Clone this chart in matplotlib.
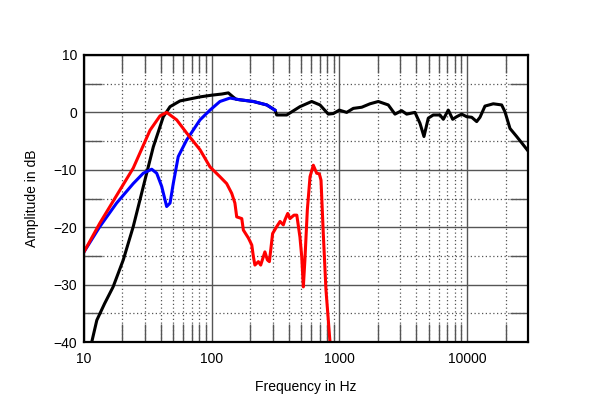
import numpy as np
import matplotlib
matplotlib.use("Agg")
import matplotlib.pyplot as plt
from matplotlib.ticker import FixedLocator, NullFormatter

plt.rcParams["font.family"] = ["Liberation Sans", "DejaVu Sans"]

# black: total response
black_f = [11.5, 12.6, 14.5, 16.9, 20.3, 24.3, 30, 34.9, 41.8, 47.2, 56.5, 66, 81, 100,
           120, 135, 147, 155, 166, 212, 270, 313, 323, 387, 491, 607, 705, 819, 897,
           998, 1141, 1285, 1496, 1737, 2018, 2415, 2725, 3074, 3365, 3908, 4277, 4596,
           4968, 5435, 6137, 6516, 7127, 7713, 8286, 9075, 9930, 10870, 11890, 12620,
           13810, 16040, 18660, 19810, 21680, 24450, 27000, 30000]
black_db = [-40, -36.2, -33.3, -30.4, -25.7, -19.9, -11.8, -6.0, -0.75, 1.0, 2.0, 2.3, 2.7, 3.0,
            3.2, 3.4, 2.7, 2.3, 2.2, 1.9, 1.3, 0.4, -0.45, -0.45, 1.0, 1.9, 1.3, -0.3, -0.2,
            0.4, 0.0, 0.7, 0.9, 1.5, 1.9, 1.3, -0.3, 0.3, -0.3, 0.0, -1.9, -4.2,
            -1.0, -0.45, -0.45, -1.2, 0.4, -1.2, -0.75, -0.3, -0.75, -0.85, -1.6, -0.85,
            1.1, 1.5, 1.3, 0.1, -2.8, -4.2, -5.4, -6.7]

# blue: woofer / port
blue_f = [10, 13.3, 18.0, 24.3, 29.1, 33.9, 37.1, 40.6, 44.4, 47.2, 50, 54.7, 63.7, 81,
          97, 116, 139, 166, 212, 270, 313]
blue_db = [-24.3, -19.9, -15.8, -12.4, -10.6, -9.9, -10.6, -12.9, -16.4, -15.8, -12.4, -7.7,
           -4.8, -1.3, 0.4, 1.9, 2.5, 2.2, 1.9, 1.3, 0.4]

# red
red_f = [10, 13.3, 24.3, 32.9, 39.4, 44.4, 53.2, 63.7, 81, 97, 116, 131, 143.5, 152, 157,
         172, 177, 194, 206, 212, 218, 232, 242, 261, 273, 283, 300, 323, 343, 364, 375,
         394, 410, 441, 464, 491, 507, 522, 537, 561, 589, 625, 664, 696, 718, 748, 785,
         819, 844]
red_db = [-24.3, -19.3, -9.7, -3.1, -0.6, 0.0, -1.3, -3.6, -6.5, -9.5, -11.2, -12.4, -14.1,
          -15.8, -18.2, -18.5, -20.5, -21.9, -23.1, -25.1, -26.6, -26.0, -26.6, -24.3, -25.7,
          -26.0, -21.1, -19.9, -19.0, -19.6, -18.7, -17.6, -18.5, -17.9, -17.9, -21.7, -25.1,
          -30.4, -25.7, -17.0, -11.2, -9.2, -10.6, -10.7, -11.8, -21.1, -30.9, -36.2, -40]

x_major = [10, 100, 1000, 10000]
x_labels = ["10", "100", "1000", "10000"]
y_major = [-40, -30, -20, -10, 0, 10]
y_minor = [-35, -25, -15, -5, 5]

grid_col = "#555555"

fig = plt.figure(figsize=(6.0, 4.09), dpi=100)
ax = fig.add_axes([84 / 600, 1 - 342 / 409, 444 / 600, 287 / 409])

ax.plot(black_f, black_db, color="black", lw=2.2, solid_joinstyle="round")
ax.plot(blue_f, blue_db, color="#0000ff", lw=2.2, solid_joinstyle="round")
ax.plot(red_f, red_db, color="#ff0000", lw=2.2, solid_joinstyle="round")

ax.set_xscale("log")
ax.set_xlim(10, 30000)
ax.set_ylim(-40, 10)

minors = [m * d for d in [10, 100, 1000, 10000] for m in range(2, 10) if m * d < 30000]
ax.xaxis.set_major_locator(FixedLocator(x_major))
ax.set_xticklabels(x_labels)
ax.xaxis.set_minor_locator(FixedLocator(minors))
ax.xaxis.set_minor_formatter(NullFormatter())
ax.yaxis.set_major_locator(FixedLocator(y_major))
ax.yaxis.set_minor_locator(FixedLocator(y_minor))

ax.grid(which="major", color=grid_col, lw=1.0, ls="-")
ax.grid(which="minor", color=grid_col, lw=0.9, ls=(0, (1, 2)))
ax.set_axisbelow(True)

ax.tick_params(which="both", direction="in", top=True, right=True, labelsize=10)
ax.tick_params(which="major", length=0, pad=7)
ax.tick_params(axis="y", which="major", pad=5)
ax.tick_params(which="minor", length=13, width=1.0, color=grid_col)

for s in ax.spines.values():
    s.set_linewidth(1.6)
    s.set_color("black")

ax.set_xlabel("Frequency in Hz", fontsize=10, labelpad=10)
ax.set_ylabel("Amplitude in dB", fontsize=10, labelpad=10)

fig.savefig("out.png", dpi=100)
